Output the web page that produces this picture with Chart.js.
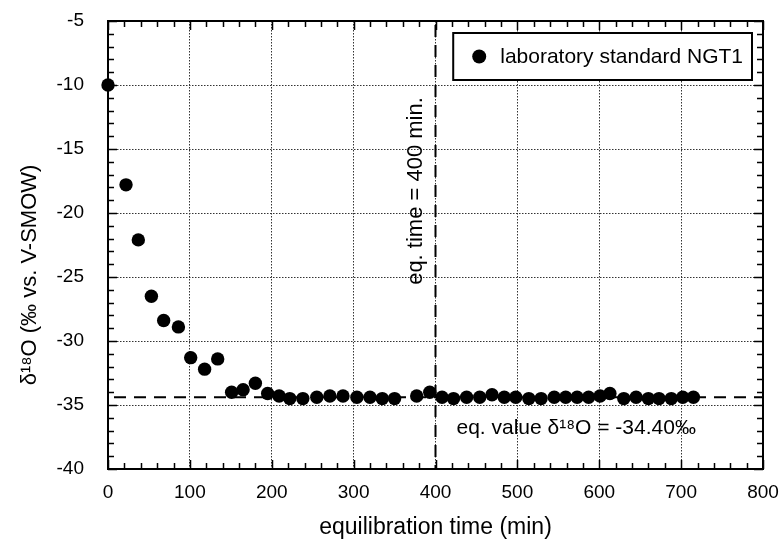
<!DOCTYPE html>
<html>
<head>
<meta charset="utf-8">
<style>html,body{margin:0;padding:0;background:#fff;}canvas{display:block;}</style>
<script src="https://cdn.jsdelivr.net/npm/chart.js@4/dist/chart.umd.min.js"></script>
</head>
<body>
<canvas id="c" width="780" height="542"></canvas>
<script>
// ---- data ----
const times = [0, 22, 37, 53, 68, 86, 101, 118, 134, 151, 165, 180, 195, 209, 222, 238, 255, 271, 287, 304, 320, 335, 350, 377, 393, 408, 422, 438, 454, 469, 484, 498, 514, 529, 545, 559, 573, 587, 601, 613, 630, 645, 660, 673, 688, 702, 715];
const delta18O = [-10.0, -17.8, -22.1, -26.5, -28.4, -28.9, -31.3, -32.2, -31.4, -34.0, -33.8, -33.3, -34.1, -34.3, -34.5, -34.5, -34.4, -34.3, -34.3, -34.4, -34.4, -34.5, -34.5, -34.3, -34.0, -34.4, -34.5, -34.4, -34.4, -34.2, -34.4, -34.4, -34.5, -34.5, -34.4, -34.4, -34.4, -34.4, -34.3, -34.1, -34.5, -34.4, -34.5, -34.5, -34.5, -34.4, -34.4];
const xTicks = [0, 100, 200, 300, 400, 500, 600, 700, 800];
const yTicks = [-40, -35, -30, -25, -20, -15, -10, -5];
const xMinorStep = 20;
const yMinorStep = 1;
const seriesLabel = 'laboratory standard NGT1';
const xTitle = 'equilibration time (min)';
const yTitle = 'δ¹⁸O (‰ vs. V-SMOW)';
const eqTime = 400;
const eqValue = -34.40;
const eqTimeText = 'eq. time = ' + eqTime + ' min.';
const eqValueText = 'eq. value δ¹⁸O = ' + eqValue.toFixed(2) + '‰';

const FONT = '"Liberation Sans", Arial, Helvetica, sans-serif';

const overlay = {
  id: 'overlay',
  beforeDatasetsDraw(chart) {
    const {ctx, chartArea: a, scales: {x, y}} = chart;
    ctx.save();
    // frame
    ctx.strokeStyle = '#000';
    ctx.lineWidth = 2;
    ctx.setLineDash([]);
    ctx.strokeRect(a.left, a.top, a.right - a.left, a.bottom - a.top);
    // inward tick marks on all four sides
    ctx.lineWidth = 1.5;
    ctx.beginPath();
    for (let v = x.min; v <= x.max + 1e-9; v += xMinorStep) {
      const px = Math.round(x.getPixelForValue(v)) + 0.5;
      const len = (v % 100 === 0) ? 9 : 6;
      ctx.moveTo(px, a.bottom); ctx.lineTo(px, a.bottom - len);
      ctx.moveTo(px, a.top); ctx.lineTo(px, a.top + len);
    }
    for (let v = y.min; v <= y.max + 1e-9; v += yMinorStep) {
      const py = Math.round(y.getPixelForValue(v)) + 0.5;
      const len = (v % 5 === 0) ? 9 : 6;
      ctx.moveTo(a.left, py); ctx.lineTo(a.left + len, py);
      ctx.moveTo(a.right, py); ctx.lineTo(a.right - len, py);
    }
    ctx.stroke();
    // equilibrium reference lines
    ctx.lineWidth = 2;
    ctx.setLineDash([12, 8]);
    const ex = x.getPixelForValue(eqTime);
    ctx.beginPath(); ctx.moveTo(ex, a.top + 4); ctx.lineTo(ex, a.bottom); ctx.stroke();
    const ey = y.getPixelForValue(eqValue);
    ctx.beginPath(); ctx.moveTo(a.left + 6, ey); ctx.lineTo(a.right, ey); ctx.stroke();
    ctx.setLineDash([]);
    // y axis title (placed slightly below the axis centre, as in the reference)
    ctx.fillStyle = '#000';
    ctx.font = '22px ' + FONT;
    ctx.save();
    ctx.translate(30, a.top + 254);
    ctx.rotate(-Math.PI / 2);
    ctx.textAlign = 'center';
    ctx.textBaseline = 'middle';
    ctx.fillText(yTitle, 0, 0);
    ctx.restore();
    // annotation texts
    ctx.font = '22px ' + FONT;
    ctx.save();
    ctx.translate(ex - 14, a.top + 170);
    ctx.rotate(-Math.PI / 2);
    ctx.textAlign = 'center';
    ctx.textBaseline = 'alphabetic';
    ctx.fillText(eqTimeText, 0, 0);
    ctx.restore();
    ctx.font = '21px ' + FONT;
    ctx.textAlign = 'left';
    ctx.textBaseline = 'alphabetic';
    ctx.fillText(eqValueText, ex + 21, ey + 37);
    // legend box
    ctx.font = '21px ' + FONT;
    const tw = ctx.measureText(seriesLabel).width;
    const bw = 47 + tw + 9, bh = 47;
    const bx = a.right - 11 - bw, by = a.top + 12;
    ctx.fillStyle = '#fff';
    ctx.fillRect(bx, by, bw, bh);
    ctx.lineWidth = 2;
    ctx.strokeStyle = '#000';
    ctx.strokeRect(bx, by, bw, bh);
    ctx.fillStyle = '#000';
    ctx.beginPath(); ctx.arc(bx + 26, by + bh / 2, 7, 0, Math.PI * 2); ctx.fill();
    ctx.textBaseline = 'middle';
    ctx.fillText(seriesLabel, bx + 47, by + bh / 2 + 1);
    ctx.restore();
  }
};

new Chart(document.getElementById('c'), {
  type: 'scatter',
  data: {
    datasets: [{
      label: seriesLabel,
      data: times.map((t, i) => ({x: t, y: delta18O[i]})),
      pointRadius: 6.7,
      pointHoverRadius: 6.7,
      pointBackgroundColor: '#000',
      pointBorderWidth: 0,
      showLine: false,
      clip: false
    }]
  },
  options: {
    responsive: false,
    devicePixelRatio: 1,
    animation: false,
    events: [],
    layout: {padding: {top: 21, right: 17, left: 0, bottom: 0}},
    plugins: {legend: {display: false}, tooltip: {enabled: false}},
    scales: {
      x: {
        type: 'linear', min: 0, max: 800,
        afterBuildTicks: s => { s.ticks = xTicks.map(v => ({value: v})); },
        afterFit: s => { s.height = 73; s.paddingLeft = 0; s.paddingRight = 0; },
        grid: {drawTicks: false, color: '#333', lineWidth: 1},
        border: {display: false, dash: [1.5, 1.5]},
        ticks: {padding: 12, color: '#000', font: {family: FONT, size: 19}, callback: v => String(v), maxRotation: 0, autoSkip: false},
        title: {display: true, text: xTitle, color: '#000', font: {family: FONT, size: 23}, padding: {top: 0, bottom: 1}}
      },
      y: {
        type: 'linear', min: -40, max: -5,
        afterBuildTicks: s => { s.ticks = yTicks.map(v => ({value: v})); },
        afterFit: s => { s.width = 108; s.paddingTop = 0; s.paddingBottom = 0; },
        grid: {drawTicks: false, color: '#333', lineWidth: 1},
        border: {display: false, dash: [1.5, 1.5]},
        ticks: {padding: 24, color: '#000', font: {family: FONT, size: 19}, callback: v => String(v), autoSkip: false},
        title: {display: false, text: yTitle}
      }
    }
  },
  plugins: [overlay]
});
</script>
</body>
</html>
